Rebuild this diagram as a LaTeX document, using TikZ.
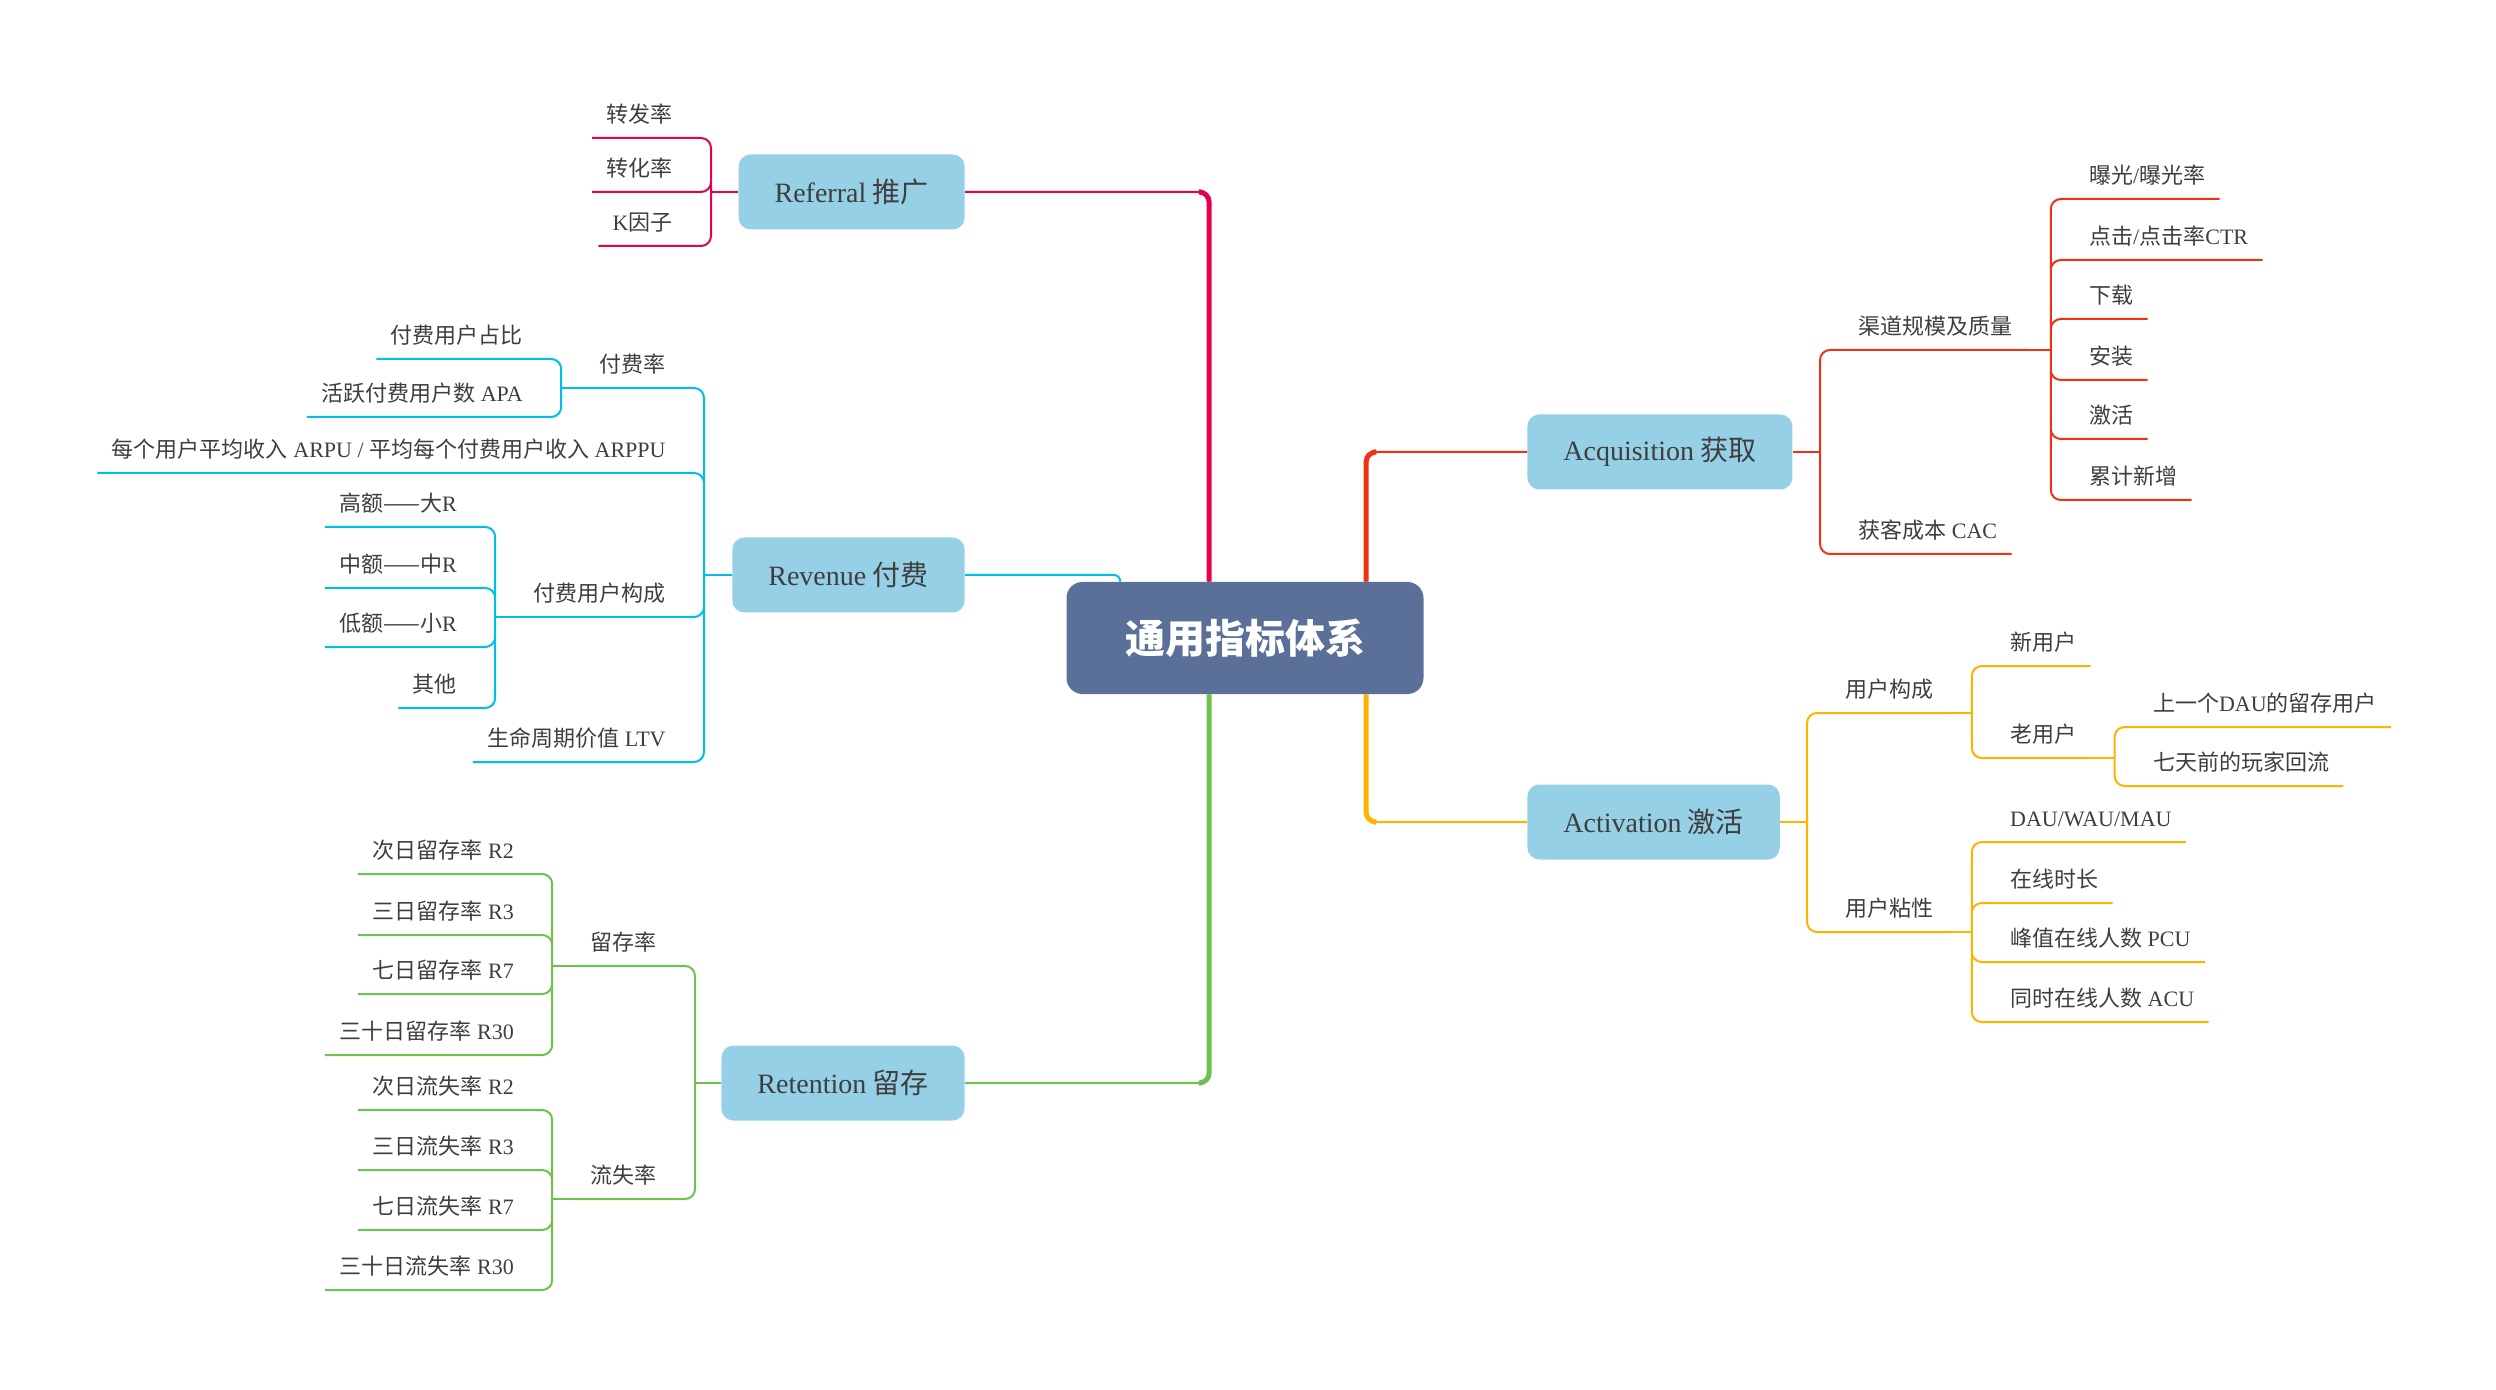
\documentclass[tikz,border=0pt]{standalone}
\usepackage{fontspec}
\setmainfont{Liberation Serif}
\newfontfamily\zh{Noto Sans CJK SC}
\usetikzlibrary{calc}
\definecolor{rosa}{HTML}{E6004F}
\definecolor{cian}{HTML}{00BFE7}
\definecolor{verde}{HTML}{6CC24A}
\definecolor{rojo}{HTML}{EE3212}
\definecolor{ambar}{HTML}{FFB300}
\definecolor{celeste}{HTML}{96D0E6}
\definecolor{pizarra}{HTML}{5A7098}
\definecolor{tinta}{HTML}{3E3E3E}
\newcommand{\la}[1]{{\rmfamily #1}}
\tikzstyle{centro} = [fill=pizarra, rounded corners=8pt, minimum width=178.5pt, minimum height=56pt, text=white, font=\zh\bfseries\fontsize{20}{24}\selectfont]
\tikzstyle{rama} = [fill=celeste, rounded corners=6pt, inner xsep=18pt, minimum height=37.5pt, text=tinta, font=\zh\fontsize{14}{16}\selectfont]
\tikzstyle{hoja} = [inner xsep=7pt, inner ysep=5pt, text depth=2.5pt, text=tinta, font=\zh\fontsize{11}{13}\selectfont]
\tikzstyle{izq} = [hoja, anchor=south east]
\tikzstyle{der} = [hoja, anchor=south west]
\tikzstyle{linea} = [line width=1pt, rounded corners=5pt]
\tikzstyle{tronco} = [line width=2.5pt, rounded corners=5pt]

\begin{document}
\begin{tikzpicture}[x=0.5pt, y=-0.5pt]
	\useasboundingbox (6,4) rectangle (2502,1394);
	\node[centro] (raiz) at (1251,642) {通用指标体系};
	\node[rama, anchor=east] (ref) at (971,196) {\la{Referral} 推广};
	\node[rama, anchor=east] (rev) at (971,579) {\la{Revenue} 付费};
	\node[rama, anchor=east] (ret) at (971,1087) {\la{Retention} 留存};
	\node[rama, anchor=west] (acq) at (1533,456) {\la{Acquisition} 获取};
	\node[rama, anchor=west] (act) at (1533,826) {\la{Activation} 激活};
	
	\coordinate (pr) at ($(raiz.north west)+(143,0)$);
	\coordinate (pv) at ($(raiz.north west)+(54,0)$);
	\coordinate (pt) at ($(raiz.south west)+(143,0)$);
	\coordinate (pa) at ($(raiz.north west)+(300,0)$);
	\coordinate (pc) at ($(raiz.south west)+(300,0)$);
	\draw[linea, rosa] (ref.east) -| (pr);
	\draw[tronco, rosa] ($(ref.east -| pr)+(-8,0)$) -| (pr);
	\draw[linea, cian, rounded corners=3pt] (rev.east) -| (pv);
	\draw[linea, verde] (ret.east) -| (pt);
	\draw[tronco, verde] ($(ret.east -| pt)+(-8,0)$) -| (pt);
	\draw[linea, rojo] (acq.west) -| (pa);
	\draw[tronco, rojo] ($(acq.west -| pa)+(8,0)$) -| (pa);
	\draw[linea, ambar] (act.west) -| (pc);
	\draw[tronco, ambar] ($(act.west -| pc)+(8,0)$) -| (pc);
	
	% Referral
	\coordinate (jr) at (717,196);
	\node[izq] (r1) at (693,142) {转发率};
	\node[izq] (r2) at (693,196) {转化率};
	\node[izq] (r3) at (693,250) {\la{K}因子};
	\draw[linea, rosa] (ref.west) -- (jr);
	\draw[linea, rosa] (jr) |- (r1.south east) -- (r1.south west)
		(jr) |- (r2.south east) -- (r2.south west)
		(jr) |- (r3.south east) -- (r3.south west);
	
	% Revenue
	\coordinate (jv) at (710,579);
	\node[izq] (v1) at (686,392) {付费率};
	\node[izq] (v2) at (686,477) {每个用户平均收入\la{ ARPU / }平均每个付费用户收入\la{ ARPPU}};
	\node[izq] (v3) at (686,621) {付费用户构成};
	\node[izq] (v4) at (686,766) {生命周期价值\la{ LTV}};
	\draw[linea, cian] (rev.west) -- (jv);
	\draw[linea, cian] (jv) |- (v1.south east) -- (v1.south west)
		(jv) |- (v2.south east) -- (v2.south west)
		(jv) |- (v3.south east) -- (v3.south west)
		(jv) |- (v4.south east) -- (v4.south west);
	\coordinate (jv1) at ($(v1.south west)+(-24,0)$);
	\node[izq, xshift=-12pt] (v11) at (jv1 |- 0,363) {付费用户占比};
	\node[izq, xshift=-12pt] (v12) at (jv1 |- 0,421) {活跃付费用户数\la{ APA}};
	\draw[linea, cian] (v1.south west) -- (jv1);
	\draw[linea, cian] (jv1) |- (v11.south east) -- (v11.south west)
		(jv1) |- (v12.south east) -- (v12.south west);
	\coordinate (jv3) at ($(v3.south west)+(-24,0)$);
	\node[izq, xshift=-12pt] (v31) at (jv3 |- 0,531) {高额——大\la{R}};
	\node[izq, xshift=-12pt] (v32) at (jv3 |- 0,592) {中额——中\la{R}};
	\node[izq, xshift=-12pt] (v33) at (jv3 |- 0,651) {低额——小\la{R}};
	\node[izq, xshift=-12pt] (v34) at (jv3 |- 0,712) {其他};
	\draw[linea, cian] (v3.south west) -- (jv3);
	\draw[linea, cian] (jv3) |- (v31.south east) -- (v31.south west)
		(jv3) |- (v32.south east) -- (v32.south west)
		(jv3) |- (v33.south east) -- (v33.south west)
		(jv3) |- (v34.south east) -- (v34.south west);
	
	% Retention
	\coordinate (jt) at (701,1087);
	\node[izq] (t1) at (677,970) {留存率};
	\node[izq] (t2) at (677,1203) {流失率};
	\draw[linea, verde] (ret.west) -- (jt);
	\draw[linea, verde] (jt) |- (t1.south east) -- (t1.south west)
		(jt) |- (t2.south east) -- (t2.south west);
	\coordinate (jt1) at ($(t1.south west)+(-24,0)$);
	\node[izq, xshift=-12pt] (t11) at (jt1 |- 0,878) {次日留存率\la{ R2}};
	\node[izq, xshift=-12pt] (t12) at (jt1 |- 0,939) {三日留存率\la{ R3}};
	\node[izq, xshift=-12pt] (t13) at (jt1 |- 0,998) {七日留存率\la{ R7}};
	\node[izq, xshift=-12pt] (t14) at (jt1 |- 0,1059) {三十日留存率\la{ R30}};
	\draw[linea, verde] (t1.south west) -- (jt1);
	\draw[linea, verde] (jt1) |- (t11.south east) -- (t11.south west)
		(jt1) |- (t12.south east) -- (t12.south west)
		(jt1) |- (t13.south east) -- (t13.south west)
		(jt1) |- (t14.south east) -- (t14.south west);
	\coordinate (jt2) at ($(t2.south west)+(-24,0)$);
	\node[izq, xshift=-12pt] (t21) at (jt2 |- 0,1114) {次日流失率\la{ R2}};
	\node[izq, xshift=-12pt] (t22) at (jt2 |- 0,1174) {三日流失率\la{ R3}};
	\node[izq, xshift=-12pt] (t23) at (jt2 |- 0,1234) {七日流失率\la{ R7}};
	\node[izq, xshift=-12pt] (t24) at (jt2 |- 0,1294) {三十日流失率\la{ R30}};
	\draw[linea, verde] (t2.south west) -- (jt2);
	\draw[linea, verde] (jt2) |- (t21.south east) -- (t21.south west)
		(jt2) |- (t22.south east) -- (t22.south west)
		(jt2) |- (t23.south east) -- (t23.south west)
		(jt2) |- (t24.south east) -- (t24.south west);
	
	% Acquisition
	\coordinate (ja) at (1826,456);
	\node[der] (a1) at (1850,354) {渠道规模及质量};
	\node[der] (a2) at (1850,558) {获客成本\la{ CAC}};
	\draw[linea, rojo] (acq.east) -- (ja);
	\draw[linea, rojo] (ja) |- (a1.south west) -- (a1.south east)
		(ja) |- (a2.south west) -- (a2.south east);
	\coordinate (ja1) at ($(a1.south east)+(24,0)$);
	\node[der, xshift=12pt] (a11) at (ja1 |- 0,203) {曝光\la{/}曝光率};
	\node[der, xshift=12pt] (a12) at (ja1 |- 0,264) {点击\la{/}点击率\la{CTR}};
	\node[der, xshift=12pt] (a13) at (ja1 |- 0,323) {下载};
	\node[der, xshift=12pt] (a14) at (ja1 |- 0,384) {安装};
	\node[der, xshift=12pt] (a15) at (ja1 |- 0,443) {激活};
	\node[der, xshift=12pt] (a16) at (ja1 |- 0,504) {累计新增};
	\draw[linea, rojo] (a1.south east) -- (ja1);
	\draw[linea, rojo] (ja1) |- (a11.south west) -- (a11.south east)
		(ja1) |- (a12.south west) -- (a12.south east)
		(ja1) |- (a13.south west) -- (a13.south east)
		(ja1) |- (a14.south west) -- (a14.south east)
		(ja1) |- (a15.south west) -- (a15.south east)
		(ja1) |- (a16.south west) -- (a16.south east);
	
	% Activation
	\coordinate (jc) at (1813,826);
	\node[der] (c1) at (1837,717) {用户构成};
	\node[der] (c2) at (1837,936) {用户粘性};
	\draw[linea, ambar] (act.east) -- (jc);
	\draw[linea, ambar] (jc) |- (c1.south west) -- (c1.south east)
		(jc) |- (c2.south west) -- (c2.south east);
	\coordinate (jc1) at ($(c1.south east)+(24,0)$);
	\node[der, xshift=12pt] (c11) at (jc1 |- 0,670) {新用户};
	\node[der, xshift=12pt] (c12) at (jc1 |- 0,762) {老用户};
	\draw[linea, ambar] (c1.south east) -- (jc1);
	\draw[linea, ambar] (jc1) |- (c11.south west) -- (c11.south east)
		(jc1) |- (c12.south west) -- (c12.south east);
	\coordinate (jc12) at ($(c12.south east)+(24,0)$);
	\node[der, xshift=12pt] (c121) at (jc12 |- 0,731) {上一个\la{DAU}的留存用户};
	\node[der, xshift=12pt] (c122) at (jc12 |- 0,790) {七天前的玩家回流};
	\draw[linea, ambar] (c12.south east) -- (jc12);
	\draw[linea, ambar] (jc12) |- (c121.south west) -- (c121.south east)
		(jc12) |- (c122.south west) -- (c122.south east);
	\coordinate (jc2) at ($(c2.south east)+(24,0)$);
	\node[der, xshift=12pt] (c21) at (jc2 |- 0,846) {\la{DAU/WAU/MAU}};
	\node[der, xshift=12pt] (c22) at (jc2 |- 0,907) {在线时长};
	\node[der, xshift=12pt] (c23) at (jc2 |- 0,966) {峰值在线人数\la{ PCU}};
	\node[der, xshift=12pt] (c24) at (jc2 |- 0,1026) {同时在线人数\la{ ACU}};
	\draw[linea, ambar] (c2.south east) -- (jc2);
	\draw[linea, ambar] (jc2) |- (c21.south west) -- (c21.south east)
		(jc2) |- (c22.south west) -- (c22.south east)
		(jc2) |- (c23.south west) -- (c23.south east)
		(jc2) |- (c24.south west) -- (c24.south east);
\end{tikzpicture}
\end{document}
